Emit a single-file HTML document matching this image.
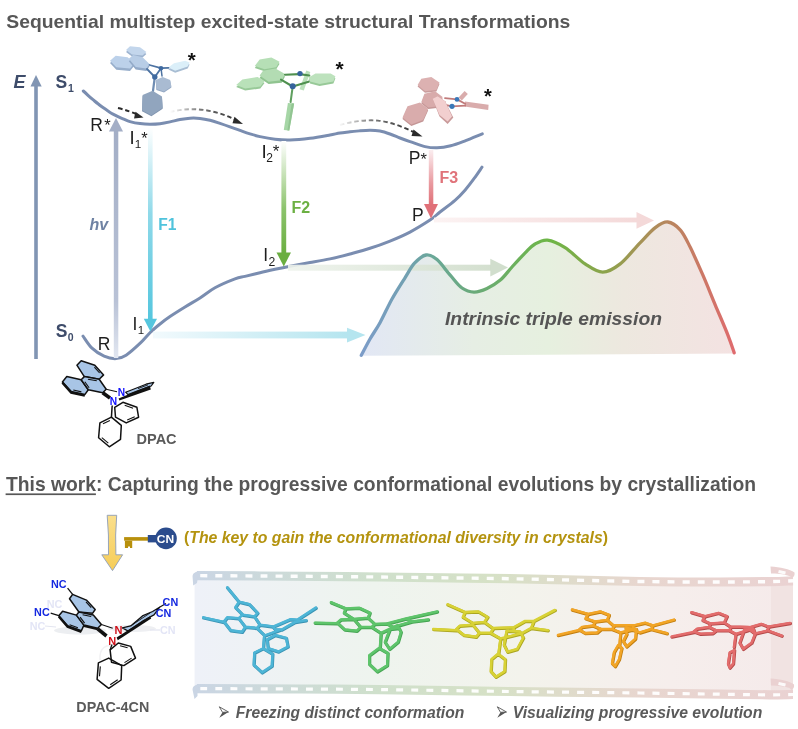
<!DOCTYPE html>
<html><head><meta charset="utf-8"><style>html,body{margin:0;padding:0;background:#fff;} svg{display:block;will-change:transform;}</style></head>
<body><svg width="798" height="729" viewBox="0 0 798 729">
<rect width="798" height="729" fill="#ffffff"/>
<defs>
<linearGradient id="gHv" x1="0" y1="0" x2="0" y2="1"><stop offset="0" stop-color="#a3aec6"/><stop offset="0.75" stop-color="#b9c2d6"/><stop offset="1" stop-color="#e2e7f1"/></linearGradient>
<linearGradient id="gF1" x1="0" y1="0" x2="0" y2="1"><stop offset="0" stop-color="#ffffff"/><stop offset="0.45" stop-color="#8fd9e9"/><stop offset="1" stop-color="#55c6de"/></linearGradient>
<linearGradient id="gF2" x1="0" y1="0" x2="0" y2="1"><stop offset="0" stop-color="#ffffff"/><stop offset="0.6" stop-color="#8cc36c"/><stop offset="1" stop-color="#6aae40"/></linearGradient>
<linearGradient id="gF3" x1="0" y1="0" x2="0" y2="1"><stop offset="0" stop-color="#fbeef0"/><stop offset="0.6" stop-color="#e99aa0"/><stop offset="1" stop-color="#e07078"/></linearGradient>
<linearGradient id="gCy" x1="0" y1="0" x2="1" y2="0"><stop offset="0" stop-color="#f2fafd"/><stop offset="1" stop-color="#b5e5ef"/></linearGradient>
<linearGradient id="gGr" x1="0" y1="0" x2="1" y2="0"><stop offset="0" stop-color="#eef3ec"/><stop offset="1" stop-color="#cfdcca"/></linearGradient>
<linearGradient id="gPk" x1="0" y1="0" x2="1" y2="0"><stop offset="0" stop-color="#fcf3f3"/><stop offset="1" stop-color="#f4d9d9"/></linearGradient>
<linearGradient id="gEmF" gradientUnits="userSpaceOnUse" x1="361" y1="0" x2="736" y2="0"><stop offset="0" stop-color="#e2e7f5"/><stop offset="0.3" stop-color="#e6eee4"/><stop offset="0.5" stop-color="#e6f0df"/><stop offset="0.7" stop-color="#ede8df"/><stop offset="1" stop-color="#f4e2e2"/></linearGradient>
<linearGradient id="gEmS" gradientUnits="userSpaceOnUse" x1="361" y1="0" x2="736" y2="0"><stop offset="0" stop-color="#7c9cc8"/><stop offset="0.12" stop-color="#72a0b2"/><stop offset="0.19" stop-color="#6aa898"/><stop offset="0.3" stop-color="#6aaa7a"/><stop offset="0.5" stop-color="#6db646"/><stop offset="0.66" stop-color="#8ea24c"/><stop offset="0.82" stop-color="#b8865e"/><stop offset="1" stop-color="#e06a6e"/></linearGradient>
<linearGradient id="gDash2" gradientUnits="userSpaceOnUse" x1="170" y1="0" x2="243" y2="0"><stop offset="0" stop-color="#222" stop-opacity="0"/><stop offset="0.4" stop-color="#222" stop-opacity="0.6"/><stop offset="1" stop-color="#222"/></linearGradient>
<linearGradient id="gDash3" gradientUnits="userSpaceOnUse" x1="338" y1="0" x2="422" y2="0"><stop offset="0" stop-color="#222" stop-opacity="0"/><stop offset="0.4" stop-color="#222" stop-opacity="0.6"/><stop offset="1" stop-color="#222"/></linearGradient>
<linearGradient id="gYel" x1="0" y1="0" x2="0" y2="1"><stop offset="0" stop-color="#fadf8c"/><stop offset="1" stop-color="#f6cd58"/></linearGradient>
<linearGradient id="gFilmBody" gradientUnits="userSpaceOnUse" x1="195" y1="0" x2="790" y2="0"><stop offset="0" stop-color="#eef1f8"/><stop offset="0.3" stop-color="#eef4ee"/><stop offset="0.55" stop-color="#f3f3ec"/><stop offset="0.8" stop-color="#f6eeec"/><stop offset="1" stop-color="#f5eaea"/></linearGradient>
<linearGradient id="gFilmBand" gradientUnits="userSpaceOnUse" x1="195" y1="0" x2="790" y2="0"><stop offset="0" stop-color="#cad5e4"/><stop offset="0.3" stop-color="#cfe0cc"/><stop offset="0.5" stop-color="#d6e1c6"/><stop offset="0.75" stop-color="#e8d6cf"/><stop offset="1" stop-color="#ead2d2"/></linearGradient>
</defs>
<text x="6.3" y="27.8" style="font-family:'Liberation Sans',sans-serif;font-weight:bold;font-size:19px" fill="#575757" textLength="564" lengthAdjust="spacingAndGlyphs">Sequential multistep excited-state structural Transformations</text>
<rect x="34.2" y="85" width="3.6" height="274" fill="#8195b3"/>
<polygon points="36,75 30.5,86.5 41.7,86.5" fill="#8195b3"/>
<text x="13.4" y="87.6" style="font-family:'Liberation Sans',sans-serif;font-weight:bold;font-style:italic;font-size:18px" fill="#3e4c6a">E</text>
<text x="55.6" y="87.6" style="font-family:'Liberation Sans',sans-serif;font-weight:bold;font-size:17.5px" fill="#3e4c6a">S</text>
<text x="68" y="91.7" style="font-family:'Liberation Sans',sans-serif;font-weight:bold;font-size:10.5px" fill="#3e4c6a">1</text>
<text x="55.8" y="337" style="font-family:'Liberation Sans',sans-serif;font-weight:bold;font-size:17.5px" fill="#3e4c6a">S</text>
<text x="67.8" y="340.7" style="font-family:'Liberation Sans',sans-serif;font-weight:bold;font-size:10.5px" fill="#3e4c6a">0</text>
<path d="M83.3,91.0 C84.1,91.7 86.4,93.8 88.0,95.3 C89.6,96.8 91.3,98.3 93.0,99.7 C94.7,101.1 96.3,102.5 98.0,103.8 C99.7,105.1 101.3,106.4 103.0,107.6 C104.7,108.8 106.3,109.9 108.0,111.0 C109.7,112.1 111.3,113.2 113.0,114.1 C114.7,115.0 116.3,115.8 118.0,116.6 C119.7,117.4 121.0,118.0 123.0,118.8 C125.0,119.6 127.2,120.8 130.0,121.6 C132.8,122.4 136.7,123.2 140.0,123.6 C143.3,124.0 146.7,124.2 150.0,124.2 C153.3,124.2 156.7,124.1 160.0,123.7 C163.3,123.3 166.7,122.6 170.0,121.9 C173.3,121.2 176.7,120.2 180.0,119.6 C183.3,119.0 186.7,118.4 190.0,118.2 C193.3,118.0 196.7,118.1 200.0,118.4 C203.3,118.8 206.7,119.5 210.0,120.3 C213.3,121.1 216.7,122.3 220.0,123.4 C223.3,124.5 226.7,125.7 230.0,126.9 C233.3,128.1 236.7,129.2 240.0,130.4 C243.3,131.6 246.7,132.9 250.0,133.9 C253.3,134.9 255.8,135.7 260.0,136.6 C264.2,137.5 270.0,138.6 275.0,139.2 C280.0,139.8 284.2,140.2 290.0,140.0 C295.8,139.8 303.3,139.1 310.0,138.3 C316.7,137.5 325.0,135.9 330.0,135.0 C335.0,134.1 336.7,133.5 340.0,133.0 C343.3,132.5 346.7,132.2 350.0,131.8 C353.3,131.4 356.7,131.1 360.0,130.8 C363.3,130.5 366.7,130.2 370.0,130.2 C373.3,130.2 376.7,130.4 380.0,131.0 C383.3,131.6 386.7,132.8 390.0,134.0 C393.3,135.2 396.7,136.7 400.0,138.0 C403.3,139.3 405.8,140.2 410.0,141.6 C414.2,143.0 420.5,145.6 425.0,146.6 C429.5,147.6 432.7,147.9 437.0,147.8 C441.3,147.7 445.9,147.0 450.7,145.8 C455.5,144.6 460.4,142.6 465.7,140.6 C471.0,138.6 479.5,134.9 482.3,133.8" fill="none" stroke="#7a8db0" stroke-width="3" stroke-linecap="round"/>
<path d="M83.0,336.1 C84.5,338.1 88.5,344.9 92.0,348.2 C95.5,351.5 100.1,354.5 104.1,356.2 C108.1,357.9 112.4,358.8 116.1,358.6 C119.8,358.4 122.1,357.8 126.1,355.2 C130.1,352.6 136.2,347.0 140.2,343.2 C144.2,339.4 146.9,335.7 150.2,332.5 C153.5,329.3 156.7,326.7 160.0,324.0 C163.3,321.3 165.8,319.3 170.0,316.5 C174.2,313.7 180.0,310.1 185.0,307.0 C190.0,303.9 195.0,301.1 200.0,297.9 C205.0,294.7 209.2,291.0 215.0,287.8 C220.8,284.6 230.0,280.8 235.0,278.9 C240.0,277.0 240.8,277.4 245.0,276.4 C249.2,275.4 255.0,273.9 260.0,272.7 C265.0,271.5 270.0,270.4 275.0,269.3 C280.0,268.2 284.2,267.3 290.0,266.2 C295.8,265.1 303.3,263.8 310.0,262.6 C316.7,261.4 323.3,260.3 330.0,258.9 C336.7,257.5 343.3,255.8 350.0,254.0 C356.7,252.2 363.3,250.5 370.0,248.3 C376.7,246.2 383.3,243.8 390.0,241.1 C396.7,238.4 403.3,235.6 410.0,232.1 C416.7,228.6 425.0,223.4 430.0,220.1 C435.0,216.8 435.8,215.3 440.0,212.0 C444.2,208.7 450.8,203.9 455.0,200.3 C459.2,196.7 461.7,194.0 465.0,190.2 C468.3,186.4 472.2,181.1 475.0,177.3 C477.8,173.5 480.8,168.9 482.0,167.2" fill="none" stroke="#7a8db0" stroke-width="3" stroke-linecap="round"/>
<path d="M361.3,355.3 C362.8,352.6 366.9,344.4 370.0,339.0 C373.1,333.6 376.3,329.4 380.0,322.7 C383.7,316.0 387.8,306.5 392.0,299.0 C396.2,291.5 401.2,283.8 405.0,277.8 C408.8,271.8 411.0,267.0 414.5,263.2 C418.0,259.4 422.2,255.6 426.0,255.0 C429.8,254.4 433.0,256.2 437.0,259.6 C441.0,263.0 446.0,270.4 450.2,275.1 C454.4,279.8 458.0,285.2 462.0,288.0 C466.0,290.8 469.8,292.0 474.0,292.1 C478.2,292.2 482.6,290.5 487.0,288.5 C491.4,286.5 496.1,283.7 500.3,280.1 C504.5,276.5 507.8,271.6 512.0,267.0 C516.2,262.4 521.6,256.4 525.4,252.6 C529.2,248.8 531.3,246.1 535.0,244.0 C538.7,241.9 542.5,239.5 547.5,240.1 C552.5,240.7 558.8,243.6 565.1,247.6 C571.4,251.6 578.8,259.8 585.1,263.9 C591.4,268.0 596.9,272.2 602.7,272.2 C608.6,272.2 613.9,268.8 620.2,263.9 C626.5,259.0 634.4,248.6 640.3,242.6 C646.1,236.6 650.7,231.0 655.3,227.6 C659.9,224.2 663.6,221.6 667.8,222.0 C672.0,222.4 676.6,225.8 680.4,230.1 C684.2,234.4 686.6,240.1 690.4,247.6 C694.1,255.1 698.7,265.6 702.9,275.2 C707.1,284.8 711.2,295.3 715.4,305.3 C719.6,315.3 724.9,327.4 728.0,335.3 C731.1,343.2 733.2,350.0 734.2,352.9 L734.2,353.5 L361.3,355.8 Z" fill="url(#gEmF)"/>
<rect x="153" y="331.6" width="195" height="6.8" fill="url(#gCy)"/><polygon points="347,327.8 365.5,335 347,342.5" fill="#b5e5ef"/>
<rect x="288" y="264.7" width="203" height="6" fill="url(#gGr)" opacity="0.9"/><polygon points="490.3,258.8 508,267.6 490.3,276.4" fill="#cfdcca" opacity="0.95"/>
<rect x="434" y="217.6" width="203" height="4.8" fill="url(#gPk)"/><polygon points="636.5,212 654,220.4 636.5,228.8" fill="#f4d9d9"/>
<path d="M361.3,355.3 C362.8,352.6 366.9,344.4 370.0,339.0 C373.1,333.6 376.3,329.4 380.0,322.7 C383.7,316.0 387.8,306.5 392.0,299.0 C396.2,291.5 401.2,283.8 405.0,277.8 C408.8,271.8 411.0,267.0 414.5,263.2 C418.0,259.4 422.2,255.6 426.0,255.0 C429.8,254.4 433.0,256.2 437.0,259.6 C441.0,263.0 446.0,270.4 450.2,275.1 C454.4,279.8 458.0,285.2 462.0,288.0 C466.0,290.8 469.8,292.0 474.0,292.1 C478.2,292.2 482.6,290.5 487.0,288.5 C491.4,286.5 496.1,283.7 500.3,280.1 C504.5,276.5 507.8,271.6 512.0,267.0 C516.2,262.4 521.6,256.4 525.4,252.6 C529.2,248.8 531.3,246.1 535.0,244.0 C538.7,241.9 542.5,239.5 547.5,240.1 C552.5,240.7 558.8,243.6 565.1,247.6 C571.4,251.6 578.8,259.8 585.1,263.9 C591.4,268.0 596.9,272.2 602.7,272.2 C608.6,272.2 613.9,268.8 620.2,263.9 C626.5,259.0 634.4,248.6 640.3,242.6 C646.1,236.6 650.7,231.0 655.3,227.6 C659.9,224.2 663.6,221.6 667.8,222.0 C672.0,222.4 676.6,225.8 680.4,230.1 C684.2,234.4 686.6,240.1 690.4,247.6 C694.1,255.1 698.7,265.6 702.9,275.2 C707.1,284.8 711.2,295.3 715.4,305.3 C719.6,315.3 724.9,327.4 728.0,335.3 C731.1,343.2 733.2,350.0 734.2,352.9" fill="none" stroke="url(#gEmS)" stroke-width="3.3" stroke-linecap="round"/>
<text x="445" y="325" style="font-family:'Liberation Sans',sans-serif;font-weight:bold;font-style:italic;font-size:19px" fill="#555555" textLength="217" lengthAdjust="spacingAndGlyphs">Intrinsic triple emission</text>
<rect x="113.8" y="130" width="4.5" height="228" fill="url(#gHv)"/><polygon points="116,118 109,131.5 123,131.5" fill="#a3aec6"/>
<rect x="148" y="127" width="4.6" height="193" fill="url(#gF1)"/><polygon points="150.4,331.5 143.8,318.8 157,318.8" fill="#55c6de"/>
<rect x="281.4" y="141" width="4.8" height="113" fill="url(#gF2)"/><polygon points="283.8,266.6 276.5,252.4 291,252.4" fill="#6aae40"/>
<rect x="428.8" y="150" width="4.5" height="55" fill="url(#gF3)"/><polygon points="431,218.5 424,204 438,204" fill="#e07078"/>
<text x="90.3" y="130.7" style="font-family:'Liberation Sans',sans-serif;font-size:17.5px" fill="#1e1e1e">R</text>
<text x="104.2" y="130.7" style="font-family:'Liberation Sans',sans-serif;font-size:16.5px" fill="#1e1e1e">*</text>
<text x="129.4" y="143.8" style="font-family:'Liberation Sans',sans-serif;font-size:18.5px" fill="#1e1e1e">I</text>
<text x="134.8" y="147.8" style="font-family:'Liberation Sans',sans-serif;font-size:11.7px" fill="#1e1e1e">1</text>
<text x="141.2" y="143.8" style="font-family:'Liberation Sans',sans-serif;font-size:16.5px" fill="#1e1e1e">*</text>
<text x="261.4" y="157.6" style="font-family:'Liberation Sans',sans-serif;font-size:19px" fill="#1e1e1e">I</text>
<text x="266.2" y="161.8" style="font-family:'Liberation Sans',sans-serif;font-size:12px" fill="#1e1e1e">2</text>
<text x="272.8" y="157.4" style="font-family:'Liberation Sans',sans-serif;font-size:17px" fill="#1e1e1e">*</text>
<text x="408.7" y="163.5" style="font-family:'Liberation Sans',sans-serif;font-size:17.5px" fill="#1e1e1e">P</text>
<text x="420.6" y="164.6" style="font-family:'Liberation Sans',sans-serif;font-size:16.5px" fill="#1e1e1e">*</text>
<text x="412" y="220.6" style="font-family:'Liberation Sans',sans-serif;font-size:17.5px" fill="#1e1e1e">P</text>
<text x="97.7" y="350" style="font-family:'Liberation Sans',sans-serif;font-size:17.5px" fill="#1e1e1e">R</text>
<text x="132.5" y="330" style="font-family:'Liberation Sans',sans-serif;font-size:17.5px" fill="#1e1e1e">I</text>
<text x="137.7" y="333.8" style="font-family:'Liberation Sans',sans-serif;font-size:11.5px" fill="#1e1e1e">1</text>
<text x="263.2" y="261" style="font-family:'Liberation Sans',sans-serif;font-size:17.5px" fill="#1e1e1e">I</text>
<text x="268.4" y="266" style="font-family:'Liberation Sans',sans-serif;font-size:12.2px" fill="#1e1e1e">2</text>
<text x="89.4" y="230.2" style="font-family:'Liberation Sans',sans-serif;font-size:16px;font-weight:bold;font-style:italic" fill="#6f82a3">hv</text>
<text x="158.2" y="230.4" style="font-family:'Liberation Sans',sans-serif;font-size:15.6px;font-weight:bold" fill="#4fc3dc">F1</text>
<text x="291.5" y="212.7" style="font-family:'Liberation Sans',sans-serif;font-size:16px;font-weight:bold" fill="#6cb043">F2</text>
<text x="439.5" y="183.2" style="font-family:'Liberation Sans',sans-serif;font-size:16px;font-weight:bold" fill="#e0737a">F3</text>
<path d="M118,108 Q130,111 138,115" fill="none" stroke="#2a2a2a" stroke-width="1.9" stroke-dasharray="4.5,2.8"/><polygon points="143.5,117.5 135.5,111.8 134,118.5" fill="#2a2a2a"/>
<path d="M170,112 C190,107 212,108 237,120.5" fill="none" stroke="url(#gDash2)" stroke-width="1.9" stroke-dasharray="4.5,2.8"/><polygon points="243,124 234.5,116.8 232.5,123.2" fill="#2a2a2a"/>
<path d="M340,125 C352,121.5 366,119.5 378,120.6 C392,122 405,128 416.5,133.3" fill="none" stroke="url(#gDash3)" stroke-width="1.9" stroke-dasharray="4.5,2.8"/><polygon points="422.5,136.5 413.5,129.5 411.5,136" fill="#2a2a2a"/>
<polygon points="126.0,52.0 130.0,48.3 140.0,49.3 146.4,54.0 142.5,57.5 132.0,56.6" fill="#9db3cf" opacity="1"/>
<polygon points="126.0,50.0 130.0,46.3 140.0,47.3 146.4,52.0 142.5,55.5 132.0,54.6" fill="#c3d6ec" opacity="1"/>
<polygon points="110.0,63.1 115.7,58.1 127.6,59.7 134.5,65.4 130.0,70.9 116.3,69.7" fill="#97aecb" opacity="1"/>
<polygon points="110.0,60.7 115.7,55.7 127.6,57.3 134.5,63.0 130.0,68.5 116.3,67.3" fill="#bcd1ea" opacity="1"/>
<polygon points="128.8,61.2 133.2,57.4 142.6,59.7 149.5,66.4 146.4,70.9 135.7,69.4" fill="#93aac8" opacity="1"/>
<polygon points="128.8,58.8 133.2,55.0 142.6,57.3 149.5,64.0 146.4,68.5 135.7,67.0" fill="#b8cde6" opacity="1"/>
<polygon points="168.3,69.6 174.0,65.2 185.2,62.7 189.6,64.6 187.7,68.4 175.2,72.8" fill="#a8bdd3" opacity="1"/>
<polygon points="168.3,67.6 174.0,63.2 185.2,60.7 189.6,62.6 187.7,66.4 175.2,70.8" fill="#dbeff9" opacity="1"/>
<line x1="149.5" y1="65" x2="161" y2="68.2" stroke="#4d73a2" stroke-width="1.8" stroke-linecap="round"/>
<line x1="161" y1="68.2" x2="168.5" y2="67.8" stroke="#4d73a2" stroke-width="1.8" stroke-linecap="round"/>
<line x1="147" y1="69" x2="154.8" y2="77" stroke="#4d73a2" stroke-width="1.8" stroke-linecap="round"/>
<line x1="161" y1="68.2" x2="154.8" y2="77" stroke="#4d73a2" stroke-width="1.8" stroke-linecap="round"/>
<line x1="161" y1="68.2" x2="162" y2="76" stroke="#4d73a2" stroke-width="1.5" stroke-linecap="round"/>
<line x1="154.8" y1="77" x2="153" y2="91" stroke="#6f8db3" stroke-width="2.2" stroke-linecap="round"/>
<polygon points="155.8,81.0 162.7,78.0 170.2,81.0 171.4,87.4 164.0,92.4 156.4,89.9" fill="#93a7c2" opacity="1"/>
<polygon points="155.8,80.0 162.7,77.0 170.2,80.0 171.4,86.4 164.0,91.4 156.4,88.9" fill="#a9bbd2" opacity="1"/>
<polygon points="142.6,96.0 152.6,91.8 162.0,97.4 162.7,108.7 151.4,116.2 142.0,111.2" fill="#8195b0" opacity="1"/>
<polygon points="142.6,95.0 152.6,90.8 162.0,96.4 162.7,107.7 151.4,115.2 142.0,110.2" fill="#91a5be" opacity="1"/>
<circle cx="161" cy="68.2" r="2.3" fill="#3f6aa0"/><circle cx="154.8" cy="77" r="2.7" fill="#3f6aa0"/>
<text x="187.7" y="66.8" style="font-family:'Liberation Sans',sans-serif;font-weight:bold;font-size:20.5px" fill="#111">*</text>
<polygon points="254.8,67.9 259.6,61.6 271.4,59.6 279.6,63.7 276.2,69.2 264.5,71.3" fill="#96c896" opacity="1"/>
<polygon points="254.8,65.9 259.6,59.6 271.4,57.6 279.6,61.7 276.2,67.2 264.5,69.3" fill="#b6dfb6" opacity="1"/>
<polygon points="236.2,87.1 242.4,81.6 257.6,78.9 264.5,83.0 260.3,88.5 245.2,90.6" fill="#98c998" opacity="1"/>
<polygon points="236.2,85.1 242.4,79.6 257.6,76.9 264.5,81.0 260.3,86.5 245.2,88.6" fill="#b9e1b9" opacity="1"/>
<polygon points="259.6,77.9 263.0,73.1 275.5,71.0 285.0,76.5 281.7,82.7 268.6,84.1" fill="#90c490" opacity="1"/>
<polygon points="259.6,75.5 263.0,70.7 275.5,68.6 285.0,74.1 281.7,80.3 268.6,81.7" fill="#b3dcb3" opacity="1"/>
<polygon points="308.6,79.6 315.5,75.4 330.6,75.4 335.4,78.2 333.4,83.5 319.6,86.0 310.0,83.5" fill="#98c998" opacity="1"/>
<polygon points="308.6,77.6 315.5,73.4 330.6,73.4 335.4,76.2 333.4,81.5 319.6,84.0 310.0,81.5" fill="#bde2bd" opacity="1"/>
<polygon points="306.3,70.4 310.3,72 303.8,90.5 299.5,89.3" fill="#a9d9a9" opacity="0.8"/>
<line x1="285" y1="74.8" x2="299.6" y2="74.1" stroke="#4f904f" stroke-width="2.1" stroke-linecap="round"/>
<line x1="281" y1="79.6" x2="292.7" y2="86.5" stroke="#4f904f" stroke-width="2.1" stroke-linecap="round"/>
<line x1="299.6" y1="74.1" x2="309.3" y2="75.5" stroke="#4f904f" stroke-width="2.1" stroke-linecap="round"/>
<line x1="292.7" y1="86.5" x2="308.6" y2="81.7" stroke="#4f904f" stroke-width="2.1" stroke-linecap="round"/>
<line x1="292.7" y1="86.5" x2="290.6" y2="102" stroke="#5f9f5f" stroke-width="2" stroke-linecap="round"/>
<polygon points="287.9,103 294.1,103.5 289.3,130.6 283.8,130" fill="#a6d6a6"/><polygon points="291.8,103.3 294.1,103.5 289.3,130.6 287.4,130.4" fill="#92c592"/>
<circle cx="300" cy="73.6" r="2.7" fill="#35639c"/><circle cx="292.7" cy="86.3" r="3" fill="#35639c"/>
<text x="335.6" y="76.2" style="font-family:'Liberation Sans',sans-serif;font-weight:bold;font-size:21px" fill="#111">*</text>
<polygon points="417.6,86.5 421.3,80.3 431.3,78.4 439.5,84.0 436.4,91.5 425.0,92.8" fill="#c99c9c" opacity="1"/>
<polygon points="417.6,85.0 421.3,78.8 431.3,76.9 439.5,82.5 436.4,90.0 425.0,91.3" fill="#dcb1b1" opacity="1"/>
<polygon points="421.3,103.5 424.4,95.3 435.1,92.8 442.6,98.5 438.9,107.8 428.2,109.1" fill="#c59797" opacity="1"/>
<polygon points="421.3,102.0 424.4,93.8 435.1,91.3 442.6,97.0 438.9,106.3 428.2,107.6" fill="#d8abab" opacity="1"/>
<polygon points="402.5,119.1 407.5,107.8 420.0,104.1 428.2,110.3 423.2,121.5 411.3,126.0" fill="#c49696" opacity="1"/>
<polygon points="402.5,117.6 407.5,106.3 420.0,102.6 428.2,108.8 423.2,120.0 411.3,124.5" fill="#d9acac" opacity="1"/>
<line x1="445" y1="98.2" x2="457" y2="99.4" stroke="#c07a7a" stroke-width="1.8" stroke-linecap="round"/>
<line x1="441" y1="104" x2="452" y2="106.3" stroke="#c07a7a" stroke-width="1.8" stroke-linecap="round"/>
<polygon points="465,101.6 488.6,104.8 488.2,110 464.6,106.6" fill="#d9acac"/>
<polygon points="458.6,97.5 464.6,91 467.8,94 461.8,100.4" fill="#d9acac"/>
<line x1="457" y1="99.4" x2="465.2" y2="103.8" stroke="#c07a7a" stroke-width="1.8" stroke-linecap="round"/>
<line x1="452" y1="106.3" x2="465.2" y2="105.7" stroke="#c07a7a" stroke-width="1.8" stroke-linecap="round"/>
<polygon points="432.6,98.8 437.6,96.3 445.1,101.3 453.3,117.6 447.6,123.9 439.5,116.4" fill="#c99a9a"/>
<polygon points="432.6,98.8 437.6,96.3 445.1,101.3 452,116.6 447.6,121.6 439.5,115" fill="#f2cfcf"/>
<circle cx="457" cy="99.4" r="2.4" fill="#3a78b8"/><circle cx="452" cy="106.3" r="2.6" fill="#3a78b8"/>
<text x="484" y="102.8" style="font-family:'Liberation Sans',sans-serif;font-weight:bold;font-size:20px" fill="#111">*</text>
<polygon points="76.9,365.2 81.2,360.8 94.8,365.2 103.6,374.9 99.2,379.2 84.3,376.6" fill="#a8c5e6" stroke="#111" stroke-width="1.5" stroke-linejoin="round"/>
<polygon points="62.4,381.9 66.8,376.6 81.2,379.7 88.3,389.8 84.8,394.6 71.2,391.5" fill="#a8c5e6" stroke="#111" stroke-width="1.5" stroke-linejoin="round"/>
<polygon points="81.2,379.7 84.3,376.6 99.2,379.2 106.2,389.3 102.7,392.8 88.3,389.8" fill="#a8c5e6" stroke="#111" stroke-width="1.5" stroke-linejoin="round"/>
<polyline points="62.4,382.6 71.2,392.6 84.8,395.6" fill="none" stroke="#111" stroke-width="2.4"/>
<line x1="94.4" y1="367.2" x2="99.6" y2="373.0" stroke="#111" stroke-width="1.1"/>
<line x1="81.4" y1="391.9" x2="73.3" y2="390.0" stroke="#111" stroke-width="1.1"/>
<line x1="87.9" y1="379.2" x2="96.8" y2="380.8" stroke="#111" stroke-width="1.1"/>
<line x1="89.1" y1="387.7" x2="84.8" y2="381.7" stroke="#111" stroke-width="1.1"/>
<line x1="106.2" y1="389.3" x2="117" y2="391.8" stroke="#111" stroke-width="1.1"/>
<line x1="102.7" y1="392.8" x2="110" y2="398" stroke="#111" stroke-width="3.6"/>
<polygon points="125.6,392.2 134,389 146,384.2 153.8,382.3 151.2,386 141,389.6 128,394.6" fill="#a8c5e6" stroke="#111" stroke-width="1.2" stroke-linejoin="round"/>
<polygon points="118.6,398.6 149.8,385.6 150.8,389.6 119.4,400.6" fill="#111"/>
<line x1="138" y1="388.6" x2="148" y2="384.8" stroke="#111" stroke-width="0.9"/>
<polygon points="114.7,407.3 122.9,402.3 136.9,407.3 138.6,417.2 126.2,422.9 115.5,417.2" fill="none" stroke="#111" stroke-width="1.5" stroke-linejoin="round"/>
<line x1="124.7" y1="405.2" x2="133.1" y2="408.2" stroke="#111" stroke-width="1.1"/>
<line x1="134.7" y1="416.7" x2="127.2" y2="420.1" stroke="#111" stroke-width="1.1"/>
<polygon points="111.4,417.2 121.3,425.4 120.5,439.4 109.3,446.8 98.6,437.7 99.9,422.9" fill="none" stroke="#111" stroke-width="1.5" stroke-linejoin="round"/>
<line x1="103.0" y1="423.8" x2="109.9" y2="420.4" stroke="#111" stroke-width="1.1"/>
<line x1="108.3" y1="443.1" x2="101.8" y2="437.6" stroke="#111" stroke-width="1.1"/>
<line x1="112.2" y1="405.5" x2="111.4" y2="417.2" stroke="#111" stroke-width="1.5"/>
<text x="117.8" y="395.8" style="font-family:'Liberation Sans',sans-serif;font-weight:bold;font-size:10.2px" fill="#1010ff">N</text>
<text x="109.7" y="404.8" style="font-family:'Liberation Sans',sans-serif;font-weight:bold;font-size:10.2px" fill="#1010ff">N</text>
<text x="136.6" y="443.8" style="font-family:'Liberation Sans',sans-serif;font-weight:bold;font-size:14.5px" fill="#5a5a5a" textLength="40" lengthAdjust="spacingAndGlyphs">DPAC</text>
<text x="6.0" y="490.9" style="font-family:'Liberation Sans',sans-serif;font-weight:bold;font-size:19.3px" fill="#575757" textLength="750" lengthAdjust="spacingAndGlyphs">This work: Capturing the progressive conformational evolutions by crystallization</text>
<rect x="5.6" y="493.4" width="90.3" height="1.7" fill="#575757"/>
<path d="M107.2,515.3 L116.7,515.3 Q115,535 115.9,554.8 L122.6,554.8 L112.5,570.6 L101.8,554.8 L108.5,554.8 Q109,535 107.2,515.3 Z" fill="url(#gYel)" stroke="#8d9db8" stroke-width="0.9"/>
<rect x="124.1" y="537.1" width="24" height="3.6" fill="#b8900c"/>
<path d="M124.9,540.7 L132.2,540.7 L132.2,548 L130,548 L130,546.6 L128,546.6 L128,548 L124.9,548 Z" fill="#b8900c"/>
<rect x="147.8" y="535" width="9" height="7.4" fill="#2b4c8d"/>
<circle cx="166" cy="538.4" r="10.8" fill="#2b4c8d"/>
<text x="156.8" y="542.6" style="font-family:'Liberation Sans',sans-serif;font-weight:bold;font-size:11.5px" fill="#ffffff" textLength="17.4" lengthAdjust="spacingAndGlyphs">CN</text>
<text x="184" y="542.5" style="font-family:'Liberation Sans',sans-serif;font-weight:bold;font-size:15.8px" fill="#b4930f" textLength="424" lengthAdjust="spacingAndGlyphs">(<tspan font-style="italic">The key to gain the conformational diversity in crystals</tspan>)</text>
<path d="M197.0,575.6 C207.5,575.7 229.5,575.8 260.0,576.0 C290.5,576.2 338.3,576.5 380.0,577.0 C421.7,577.5 466.7,578.0 510.0,578.7 C553.3,579.5 605.0,581.0 640.0,581.5 C675.0,582.0 698.3,582.0 720.0,582.0 C741.7,582.0 757.8,581.8 770.0,581.6 C782.2,581.4 789.2,580.9 793.0,580.8 L793,694.5 L770,694.8 L720,694.2 L640,693 L510,691.5 L380,689.6 L300,689 L197,688.6 L194.6,688.6 L194.6,576 Z" fill="url(#gFilmBody)"/>
<path d="M771,582 L793,581 L793,694.5 L771,694.8 Z" fill="#f1e2e1" opacity="0.9"/>
<path d="M197.0,575.6 C207.5,575.7 229.5,575.8 260.0,576.0 C290.5,576.2 338.3,576.5 380.0,577.0 C421.7,577.5 466.7,578.0 510.0,578.7 C553.3,579.5 605.0,581.0 640.0,581.5 C675.0,582.0 698.3,582.0 720.0,582.0 C741.7,582.0 757.8,581.8 770.0,581.6 C782.2,581.4 789.2,580.9 793.0,580.8" fill="none" stroke="url(#gFilmBand)" stroke-width="9.2"/>
<path d="M197.0,688.6 C214.2,688.7 269.5,688.8 300.0,689.0 C330.5,689.2 345.0,689.2 380.0,689.6 C415.0,690.0 466.7,690.9 510.0,691.5 C553.3,692.1 605.0,692.5 640.0,693.0 C675.0,693.5 698.3,693.9 720.0,694.2 C741.7,694.5 757.8,694.8 770.0,694.8 C782.2,694.8 789.2,694.5 793.0,694.5" fill="none" stroke="url(#gFilmBand)" stroke-width="9.2"/>
<path d="M199,571.2 C194,572 192.5,574 192.6,577 L193.2,585.5 L197,583 L197.5,580 Z" fill="#cad5e4"/>
<path d="M199,684.2 C194,685 192.5,687 192.6,690 L194.5,699 L197.5,696 L197.5,693 Z" fill="#cad5e4"/>
<path d="M770.5,566.5 C780,567 790,569 794.5,572.5 C795,575 794,577 792,578 L790,576.2 C786,574.5 778,573.2 771,573.4 Z" fill="#ead1d1"/>
<path d="M770.6,678.5 C780,679 790,681 794,684.5 C794.5,687 793.5,689 791.5,690 L789.5,688 C785,686.5 778,685.5 771,685.5 Z" fill="#ead1d1"/>
<path d="M197.0,575.6 C207.5,575.7 229.5,575.8 260.0,576.0 C290.5,576.2 338.3,576.5 380.0,577.0 C421.7,577.5 466.7,578.0 510.0,578.7 C553.3,579.5 605.0,581.0 640.0,581.5 C675.0,582.0 698.3,582.0 720.0,582.0 C741.7,582.0 757.8,581.8 770.0,581.6 C782.2,581.4 789.2,580.9 793.0,580.8" fill="none" stroke="#ffffff" stroke-width="3.4" stroke-dasharray="7 8.07" stroke-dashoffset="-18.4" opacity="0.95"/>
<path d="M197.0,688.6 C214.2,688.7 269.5,688.8 300.0,689.0 C330.5,689.2 345.0,689.2 380.0,689.6 C415.0,690.0 466.7,690.9 510.0,691.5 C553.3,692.1 605.0,692.5 640.0,693.0 C675.0,693.5 698.3,693.9 720.0,694.2 C741.7,694.5 757.8,694.8 770.0,694.8 C782.2,694.8 789.2,694.5 793.0,694.5" fill="none" stroke="#ffffff" stroke-width="3.2" stroke-dasharray="7 8.07" stroke-dashoffset="-18.4" opacity="0.95"/>
<path d="M778.5,571.5 L785.5,573" stroke="#fff" stroke-width="3" opacity="0.9"/>
<path d="M778.5,683.5 L785.5,685" stroke="#fff" stroke-width="3" opacity="0.9"/>
<path d="M239.1,601.8 L249.4,604.3 L257.6,612.9 L254.5,616.5 L242.8,614.8 L235.4,607.2 Z M223.9,621.6 L227.2,617.4 L238.7,618.3 L245.3,626.9 L242.0,631.9 L230.5,630.2 Z M273.0,626.8 L290.6,619.2 L297.2,619.8 L295.0,622.0 L281.8,629.6 L275.2,629.2 Z M267.0,639.5 L275.2,635.1 L286.2,637.9 L287.9,646.6 L278.5,651.6 L268.1,648.3 Z M254.4,652.7 L263.2,648.3 L272.5,653.8 L271.9,665.8 L262.1,672.4 L253.8,664.7 Z M227.2,587.4 L239.1,601.8 M203.3,617.4 L223.9,622.0 M254.5,616.5 L259.9,624.7 L257.0,628.0 L245.3,626.9 M259.9,624.7 L273.0,626.5 M257.0,628.0 L264.3,635.1 M297.2,619.8 L315.8,607.7 M295.0,622.0 L306.0,620.3 M264.3,635.6 L280.7,629.6 M264.3,635.1 L263.2,648.3 " fill="none" stroke="#3a93b3" stroke-width="3.2" stroke-linejoin="round" stroke-linecap="round" transform="translate(0.4,0.6)"/>
<path d="M239.1,601.8 L249.4,604.3 L257.6,612.9 L254.5,616.5 L242.8,614.8 L235.4,607.2 Z M223.9,621.6 L227.2,617.4 L238.7,618.3 L245.3,626.9 L242.0,631.9 L230.5,630.2 Z M273.0,626.8 L290.6,619.2 L297.2,619.8 L295.0,622.0 L281.8,629.6 L275.2,629.2 Z M267.0,639.5 L275.2,635.1 L286.2,637.9 L287.9,646.6 L278.5,651.6 L268.1,648.3 Z M254.4,652.7 L263.2,648.3 L272.5,653.8 L271.9,665.8 L262.1,672.4 L253.8,664.7 Z M227.2,587.4 L239.1,601.8 M203.3,617.4 L223.9,622.0 M254.5,616.5 L259.9,624.7 L257.0,628.0 L245.3,626.9 M259.9,624.7 L273.0,626.5 M257.0,628.0 L264.3,635.1 M297.2,619.8 L315.8,607.7 M295.0,622.0 L306.0,620.3 M264.3,635.6 L280.7,629.6 M264.3,635.1 L263.2,648.3 " fill="none" stroke="#4db5d6" stroke-width="2.6" stroke-linejoin="round" stroke-linecap="round"/>
<path d="M238.7,618.3 L242.8,614.8" stroke="#4db5d6" stroke-width="2.6"/>
<path d="M345.8,608.5 L359.4,607.9 L369.9,612.8 L368.0,617.8 L353.8,619.0 L344.0,612.8 Z M337.2,622.7 L340.9,619.6 L353.8,619.0 L360.6,627.0 L356.9,630.7 L344.6,629.5 Z M390.0,629.0 L399.0,628.0 L401.0,632.0 L398.0,642.0 L389.6,649.0 L385.0,642.0 Z M369.3,655.4 L379.1,648.0 L387.8,653.0 L387.2,665.3 L377.3,671.5 L369.3,664.0 Z M331.0,602.3 L345.8,608.5 M314.9,622.7 L337.2,623.3 M368.0,617.8 L374.8,624.0 L371.7,627.0 L360.6,627.0 M375.0,624.0 L387.0,623.6 M387.0,623.6 L406.1,618.5 L412.0,621.6 L393.0,627.0 L387.0,623.6 M406.1,618.5 L437.2,611.5 M412.0,621.6 L428.2,619.5 M371.7,627.0 L381.0,633.0 M381.0,633.0 L398.0,625.0 M381.0,633.0 L380.0,647.0 " fill="none" stroke="#45a452" stroke-width="3.2" stroke-linejoin="round" stroke-linecap="round" transform="translate(0.4,0.6)"/>
<path d="M345.8,608.5 L359.4,607.9 L369.9,612.8 L368.0,617.8 L353.8,619.0 L344.0,612.8 Z M337.2,622.7 L340.9,619.6 L353.8,619.0 L360.6,627.0 L356.9,630.7 L344.6,629.5 Z M390.0,629.0 L399.0,628.0 L401.0,632.0 L398.0,642.0 L389.6,649.0 L385.0,642.0 Z M369.3,655.4 L379.1,648.0 L387.8,653.0 L387.2,665.3 L377.3,671.5 L369.3,664.0 Z M331.0,602.3 L345.8,608.5 M314.9,622.7 L337.2,623.3 M368.0,617.8 L374.8,624.0 L371.7,627.0 L360.6,627.0 M375.0,624.0 L387.0,623.6 M387.0,623.6 L406.1,618.5 L412.0,621.6 L393.0,627.0 L387.0,623.6 M406.1,618.5 L437.2,611.5 M412.0,621.6 L428.2,619.5 M371.7,627.0 L381.0,633.0 M381.0,633.0 L398.0,625.0 M381.0,633.0 L380.0,647.0 " fill="none" stroke="#5ec46b" stroke-width="2.6" stroke-linejoin="round" stroke-linecap="round"/>
<path d="M465.1,612.1 L478.3,611.5 L487.6,617.0 L484.3,622.0 L472.8,623.0 L462.9,617.0 Z M456.3,629.1 L459.6,625.8 L472.8,624.7 L479.4,632.9 L476.1,636.8 L464.0,635.1 Z M513.7,627.4 L525.1,621.0 L533.9,621.0 L531.2,628.0 L521.6,633.3 L513.7,631.0 Z M506.7,630.7 L519.8,631.6 L523.3,637.7 L517.2,649.0 L507.5,651.8 L504.0,644.7 Z M491.5,659.3 L498.0,653.8 L505.2,659.3 L504.6,671.3 L495.9,676.8 L490.9,671.3 Z M447.6,604.4 L465.1,612.1 M433.3,629.1 L456.3,630.2 M484.3,622.0 L493.3,628.5 L490.4,632.9 L479.4,632.9 M493.5,628.0 L513.7,627.4 M533.9,621.0 L554.9,610.0 M531.2,628.0 L547.9,630.3 M490.4,632.9 L500.5,638.6 M500.5,638.6 L521.6,633.3 M500.5,638.6 L498.5,653.5 " fill="none" stroke="#aaa520" stroke-width="3.2" stroke-linejoin="round" stroke-linecap="round" transform="translate(0.4,0.6)"/>
<path d="M465.1,612.1 L478.3,611.5 L487.6,617.0 L484.3,622.0 L472.8,623.0 L462.9,617.0 Z M456.3,629.1 L459.6,625.8 L472.8,624.7 L479.4,632.9 L476.1,636.8 L464.0,635.1 Z M513.7,627.4 L525.1,621.0 L533.9,621.0 L531.2,628.0 L521.6,633.3 L513.7,631.0 Z M506.7,630.7 L519.8,631.6 L523.3,637.7 L517.2,649.0 L507.5,651.8 L504.0,644.7 Z M491.5,659.3 L498.0,653.8 L505.2,659.3 L504.6,671.3 L495.9,676.8 L490.9,671.3 Z M447.6,604.4 L465.1,612.1 M433.3,629.1 L456.3,630.2 M484.3,622.0 L493.3,628.5 L490.4,632.9 L479.4,632.9 M493.5,628.0 L513.7,627.4 M533.9,621.0 L554.9,610.0 M531.2,628.0 L547.9,630.3 M490.4,632.9 L500.5,638.6 M500.5,638.6 L521.6,633.3 M500.5,638.6 L498.5,653.5 " fill="none" stroke="#d8d235" stroke-width="2.6" stroke-linejoin="round" stroke-linecap="round"/>
<path d="M472.8,623 L472.8,624.7" stroke="#d8d235" stroke-width="2.6"/>
<path d="M588.1,614.0 L600.1,611.5 L609.1,615.0 L607.1,620.0 L595.1,621.6 L585.6,618.5 Z M579.1,629.6 L582.1,627.0 L593.1,625.6 L601.1,629.1 L597.1,632.6 L585.1,633.1 Z M633.7,625.4 L645.1,622.8 L653.0,625.4 L651.2,629.0 L639.8,632.5 L632.8,629.8 Z M625.8,628.0 L636.3,629.0 L635.4,638.6 L626.7,646.5 L623.2,641.2 L626.7,634.2 Z M614.1,652.1 L618.2,645.1 L621.7,648.1 L619.2,659.1 L615.2,666.2 L612.1,663.2 Z M572.0,609.5 L588.1,614.0 M558.0,635.1 L579.1,630.1 M607.1,620.0 L614.1,626.1 L612.1,629.1 L601.1,629.1 M595.1,621.6 L593.1,625.6 M613.5,625.4 L633.7,625.4 M653.0,625.4 L674.0,619.7 M652.1,629.4 L667.0,633.3 M612.1,629.1 L620.5,632.5 M620.5,632.5 L632.0,629.8 M620.5,632.5 L619.6,644.7 " fill="none" stroke="#c07d10" stroke-width="3.2" stroke-linejoin="round" stroke-linecap="round" transform="translate(0.4,0.6)"/>
<path d="M588.1,614.0 L600.1,611.5 L609.1,615.0 L607.1,620.0 L595.1,621.6 L585.6,618.5 Z M579.1,629.6 L582.1,627.0 L593.1,625.6 L601.1,629.1 L597.1,632.6 L585.1,633.1 Z M633.7,625.4 L645.1,622.8 L653.0,625.4 L651.2,629.0 L639.8,632.5 L632.8,629.8 Z M625.8,628.0 L636.3,629.0 L635.4,638.6 L626.7,646.5 L623.2,641.2 L626.7,634.2 Z M614.1,652.1 L618.2,645.1 L621.7,648.1 L619.2,659.1 L615.2,666.2 L612.1,663.2 Z M572.0,609.5 L588.1,614.0 M558.0,635.1 L579.1,630.1 M607.1,620.0 L614.1,626.1 L612.1,629.1 L601.1,629.1 M595.1,621.6 L593.1,625.6 M613.5,625.4 L633.7,625.4 M653.0,625.4 L674.0,619.7 M652.1,629.4 L667.0,633.3 M612.1,629.1 L620.5,632.5 M620.5,632.5 L632.0,629.8 M620.5,632.5 L619.6,644.7 " fill="none" stroke="#f2a526" stroke-width="2.6" stroke-linejoin="round" stroke-linecap="round"/>
<path d="M705.0,616.3 L718.5,612.9 L727.0,616.3 L724.1,622.5 L710.6,623.6 L702.7,620.2 Z M693.7,631.5 L697.1,628.7 L708.9,627.0 L716.2,630.4 L712.9,633.2 L700.4,633.8 Z M749.0,627.4 L761.2,623.9 L769.1,626.9 L766.5,630.9 L755.1,633.5 L749.8,629.6 Z M744.6,628.7 L753.3,628.7 L755.1,634.0 L751.6,642.7 L743.2,648.9 L739.7,642.7 Z M729.8,652.4 L734.3,650.1 L733.2,663.6 L729.8,667.6 L728.1,663.6 Z M691.4,612.3 L705.0,616.3 M671.7,636.6 L693.7,632.1 M724.1,622.5 L731.0,627.0 L729.2,630.4 L716.2,630.4 M710.6,623.6 L708.9,627.0 M730.5,626.5 L749.0,627.0 M769.1,626.5 L790.0,623.0 M767.4,630.4 L781.8,635.7 M729.2,630.4 L735.8,634.0 M735.8,634.0 L749.8,629.6 M735.8,634.0 L734.0,647.1 " fill="none" stroke="#b34848" stroke-width="3.2" stroke-linejoin="round" stroke-linecap="round" transform="translate(0.4,0.6)"/>
<path d="M705.0,616.3 L718.5,612.9 L727.0,616.3 L724.1,622.5 L710.6,623.6 L702.7,620.2 Z M693.7,631.5 L697.1,628.7 L708.9,627.0 L716.2,630.4 L712.9,633.2 L700.4,633.8 Z M749.0,627.4 L761.2,623.9 L769.1,626.9 L766.5,630.9 L755.1,633.5 L749.8,629.6 Z M744.6,628.7 L753.3,628.7 L755.1,634.0 L751.6,642.7 L743.2,648.9 L739.7,642.7 Z M729.8,652.4 L734.3,650.1 L733.2,663.6 L729.8,667.6 L728.1,663.6 Z M691.4,612.3 L705.0,616.3 M671.7,636.6 L693.7,632.1 M724.1,622.5 L731.0,627.0 L729.2,630.4 L716.2,630.4 M710.6,623.6 L708.9,627.0 M730.5,626.5 L749.0,627.0 M769.1,626.5 L790.0,623.0 M767.4,630.4 L781.8,635.7 M729.2,630.4 L735.8,634.0 M735.8,634.0 L749.8,629.6 M735.8,634.0 L734.0,647.1 " fill="none" stroke="#e36c6c" stroke-width="2.6" stroke-linejoin="round" stroke-linecap="round"/>
<polygon points="219.3,706.8 228.5,712.0 222.5,712.3" fill="#fff" stroke="#555" stroke-width="0.9" stroke-linejoin="round"/>
<polygon points="222.5,712.3 228.5,712.0 219.3,717.8" fill="#555"/>
<text x="235.8" y="718.2" style="font-family:'Liberation Sans',sans-serif;font-weight:bold;font-style:italic;font-size:15.6px" fill="#5a5a5a" textLength="228.5" lengthAdjust="spacingAndGlyphs">Freezing distinct conformation</text>
<polygon points="497.3,706.8 506.5,712.0 500.5,712.3" fill="#fff" stroke="#555" stroke-width="0.9" stroke-linejoin="round"/>
<polygon points="500.5,712.3 506.5,712.0 497.3,717.8" fill="#555"/>
<text x="512.8" y="718.2" style="font-family:'Liberation Sans',sans-serif;font-weight:bold;font-style:italic;font-size:15.6px" fill="#5a5a5a" textLength="249.5" lengthAdjust="spacingAndGlyphs">Visualizing progressive evolution</text>
<ellipse cx="80" cy="630.5" rx="26" ry="4" fill="#eceef1"/>
<ellipse cx="132" cy="628.5" rx="24" ry="3.5" fill="#eeeff2"/>
<path d="M100,660 C99,648 106,644 114,646" fill="none" stroke="#f1f1f3" stroke-width="1.5"/>
<text x="46.7" y="608.3" style="font-family:'Liberation Sans',sans-serif;font-weight:bold;font-size:10.8px" fill="#e3e5f6">NC</text>
<text x="29.8" y="629.6" style="font-family:'Liberation Sans',sans-serif;font-weight:bold;font-size:10.8px" fill="#e3e5f6">NC</text>
<text x="160" y="634.2" style="font-family:'Liberation Sans',sans-serif;font-weight:bold;font-size:10.8px" fill="#e3e5f6">CN</text>
<line x1="45" y1="626" x2="56" y2="627" stroke="#e3e5f0" stroke-width="1.2"/>
<line x1="150" y1="630" x2="160" y2="630" stroke="#e3e5f0" stroke-width="1.2"/>
<polygon points="69.5,598.8 72.6,594.4 86.4,600.1 95.2,609.5 92.7,613.2 78.9,612.0" fill="#a8c5e6" stroke="#111" stroke-width="1.5" stroke-linejoin="round"/>
<polygon points="58.8,615.7 62.6,611.3 76.4,615.1 83.9,625.1 81.4,630.8 67.6,625.8" fill="#a8c5e6" stroke="#111" stroke-width="1.5" stroke-linejoin="round"/>
<polygon points="76.4,615.1 78.9,612.0 93.3,615.1 101.4,624.5 97.7,628.3 83.9,625.1" fill="#a8c5e6" stroke="#111" stroke-width="1.5" stroke-linejoin="round"/>
<polyline points="58.8,616.5 67.6,626.8 81.4,631.8" fill="none" stroke="#111" stroke-width="2.4"/>
<line x1="84" y1="626" x2="97.7" y2="629.2" stroke="#111" stroke-width="2.2"/>
<line x1="86.0" y1="601.9" x2="91.2" y2="607.6" stroke="#111" stroke-width="1.1"/>
<line x1="77.9" y1="627.7" x2="69.6" y2="624.7" stroke="#111" stroke-width="1.1"/>
<line x1="82.6" y1="614.7" x2="91.2" y2="616.5" stroke="#111" stroke-width="1.1"/>
<line x1="84.6" y1="623.1" x2="80.1" y2="617.1" stroke="#111" stroke-width="1.1"/>
<line x1="67.6" y1="588.2" x2="72.6" y2="594.4" stroke="#111" stroke-width="1.3"/>
<line x1="50.7" y1="613.2" x2="58.8" y2="615.7" stroke="#111" stroke-width="1.3"/>
<line x1="101.4" y1="624.5" x2="112.7" y2="628.3" stroke="#111" stroke-width="1.1"/>
<line x1="97.7" y1="628.8" x2="106.5" y2="636" stroke="#111" stroke-width="3.6"/>
<polygon points="122.4,627.9 130.7,625.9 143,615.6 152.6,611.5 159.5,607.3 154,614.9 143.5,620.5 128,631" fill="#a8c5e6" stroke="#111" stroke-width="1.3" stroke-linejoin="round"/>
<polygon points="116.6,637.5 150,616.2 151.2,618.6 117.8,640.2" fill="#111"/>
<line x1="132" y1="625" x2="150" y2="613" stroke="#111" stroke-width="0.9"/>
<line x1="159.5" y1="607.3" x2="166" y2="603.5" stroke="#111" stroke-width="1.1"/>
<polygon points="118.3,643.0 130.7,646.4 135.5,658.1 123.8,665.6 111.5,662.2 110.1,649.9" fill="none" stroke="#111" stroke-width="1.5" stroke-linejoin="round"/>
<line x1="120.1" y1="645.8" x2="127.6" y2="647.8" stroke="#111" stroke-width="1.1"/>
<line x1="131.6" y1="658.1" x2="124.5" y2="662.6" stroke="#111" stroke-width="1.1"/>
<polygon points="98.4,662.9 108.7,658.1 121.7,665.6 121.1,680.0 108.7,688.3 97.1,679.4" fill="none" stroke="#111" stroke-width="1.5" stroke-linejoin="round"/>
<line x1="99.5" y1="676.3" x2="100.3" y2="666.4" stroke="#111" stroke-width="1.1"/>
<line x1="117.7" y1="679.7" x2="110.2" y2="684.7" stroke="#111" stroke-width="1.1"/>
<line x1="112" y1="644.5" x2="110.1" y2="649.9" stroke="#111" stroke-width="1.3"/>
<text x="114.5" y="634.1" style="font-family:'Liberation Sans',sans-serif;font-weight:bold;font-size:11px" fill="#d0101a">N</text>
<text x="108.3" y="644.8" style="font-family:'Liberation Sans',sans-serif;font-weight:bold;font-size:11px" fill="#d0101a">N</text>
<text x="51" y="588.3" style="font-family:'Liberation Sans',sans-serif;font-weight:bold;font-size:10.8px" fill="#1428e0">NC</text>
<text x="34.1" y="615.8" style="font-family:'Liberation Sans',sans-serif;font-weight:bold;font-size:10.8px" fill="#1428e0">NC</text>
<text x="162.6" y="606.2" style="font-family:'Liberation Sans',sans-serif;font-weight:bold;font-size:10.8px" fill="#1428e0">CN</text>
<text x="155.7" y="617.2" style="font-family:'Liberation Sans',sans-serif;font-weight:bold;font-size:10.8px" fill="#1428e0">CN</text>
<text x="76.3" y="711.5" style="font-family:'Liberation Sans',sans-serif;font-weight:bold;font-size:14.7px" fill="#5a5a5a" textLength="73" lengthAdjust="spacingAndGlyphs">DPAC-4CN</text>
</svg></body></html>
